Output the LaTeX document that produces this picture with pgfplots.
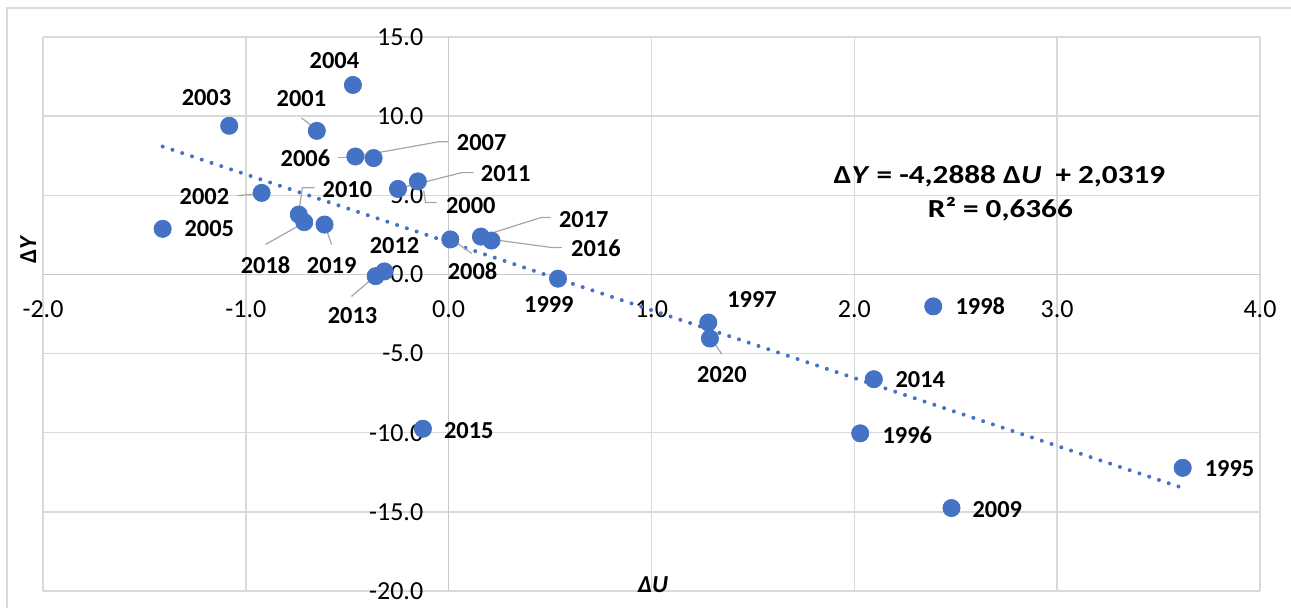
\documentclass[border=0pt]{standalone}
\usepackage{fontspec}
\setmainfont{Carlito}
\usepackage{pgfplots}
\pgfplotsset{compat=1.18}
\definecolor{excelblue}{HTML}{4472C4}
\definecolor{gridgray}{HTML}{D9D9D9}
\definecolor{axisgray}{HTML}{C8C8C8}
\definecolor{leadgray}{HTML}{A6A6A6}
\tikzset{dl/.style={font=\fontsize{12.2}{14}\selectfont\bfseries, text=black},
         eq/.style={font=\fontsize{13}{15}\selectfont\bfseries, text=black}}
\begin{document}
\begin{tikzpicture}
\useasboundingbox (-21.5pt,-8.5pt) rectangle (624pt,295.5pt);
\draw[gridgray, line width=0.7pt] (-18pt,-8.5pt) -- (-18pt,291.5pt) -- (624pt,291.5pt);
\begin{axis}[
  at={(0,0)}, anchor=south west,
  scale only axis, width=608.5pt, height=277pt,
  xmin=-2, xmax=4, ymin=-20, ymax=15,
  xtick={-2,-1,0,1,2,3,4}, ytick={-20,-15,-10,-5,0,5,10,15},
  axis lines=middle,
  axis line style={-, draw=axisgray, line width=0.7pt},
  grid=major, grid style={draw=gridgray, line width=0.7pt},
  major tick length=0pt,
  hide obscured x ticks=false, hide obscured y ticks=false,
  tick label style={font=\fontsize{13}{15}\selectfont, text=black},
  xticklabel style={anchor=north, yshift=-9.7pt},
  yticklabel style={anchor=east, xshift=-9.2pt},
  /pgf/number format/fixed, /pgf/number format/fixed zerofill,
  /pgf/number format/precision=1, /pgf/number format/assume math mode=true,
  clip=false,
]
% trend line (linear fit, plotted over data range)
\addplot[excelblue, line width=2pt, line cap=round, dash pattern=on 0pt off 5.15pt]
  coordinates {(-1.410,8.079) (3.619,-13.489)};
% data
\addplot[only marks, mark=*, mark size=4.3pt, color=excelblue] coordinates {
(-0.472,11.97) (-1.082,9.39) (-0.650,9.07) (-0.460,7.45) (-0.370,7.35)
(-0.250,5.40) (-0.152,5.88) (-0.922,5.15) (-0.739,3.78) (-0.712,3.30)
(-0.612,3.15) (-1.410,2.88) (0.008,2.21) (0.159,2.39) (0.211,2.14)
(-0.317,0.19) (-0.360,-0.11) (0.539,-0.27) (1.280,-3.04) (1.288,-4.05)
(2.389,-2.02) (2.096,-6.62) (-0.127,-9.75) (2.029,-10.04) (3.619,-12.22)
(2.479,-14.76)};
% leader lines
\begin{scope}[leadgray, line width=0.6pt]
\draw (axis cs:-0.726,9.89) -- (axis cs:-0.656,9.20);
\draw (axis cs:-0.548,7.37) -- (axis cs:-0.380,7.37);
\draw (axis cs:0,8.38) -- (axis cs:-0.049,8.38) -- (axis cs:-0.459,7.44);
\draw (axis cs:-0.661,5.48) -- (axis cs:-0.721,5.48) -- (axis cs:-0.740,3.84);
\draw (axis cs:-1.041,4.98) -- (axis cs:-0.928,5.10);
\draw (axis cs:-0.903,1.89) -- (axis cs:-0.711,3.28);
\draw (axis cs:-0.577,1.89) -- (axis cs:-0.612,3.15);
\draw (axis cs:-0.479,-1.39) -- (axis cs:-0.370,-0.19);
\draw (axis cs:0.010,2.27) -- (axis cs:0.114,1.32);
\draw (axis cs:-0.059,4.54) -- (axis cs:-0.114,4.54) -- (axis cs:-0.123,5.29);
\draw (axis cs:0.123,6.43) -- (axis cs:0.064,6.43) -- (axis cs:-0.247,5.42);
\draw (axis cs:0.503,3.59) -- (axis cs:0.454,3.59) -- (axis cs:0.158,2.39);
\draw (axis cs:0.558,1.70) -- (axis cs:0.508,1.70) -- (axis cs:0.212,2.21);
\draw (axis cs:1.293,-4.03) -- (axis cs:1.347,-5.04);
\end{scope}
% data labels
\node[dl] at (axis cs:-0.563,13.48) {2004};
\node[dl] at (axis cs:-1.194,11.15) {2003};
\node[dl] at (axis cs:-0.726,11.09) {2001};
\node[dl] at (axis cs:-0.706,7.31) {2006};
\node[dl] at (axis cs:0.163,8.32) {2007};
\node[dl] at (axis cs:-0.499,5.36) {2010};
\node[dl] at (axis cs:-1.204,4.91) {2002};
\node[dl] at (axis cs:-1.180,2.90) {2005};
\node[dl] at (axis cs:-0.903,0.57) {2018};
\node[dl] at (axis cs:-0.577,0.57) {2019};
\node[dl] at (axis cs:-0.267,1.83) {2012};
\node[dl] at (axis cs:-0.474,-2.58) {2013};
\node[dl] at (axis cs:0.118,0.19) {2008};
\node[dl] at (axis cs:0.109,4.35) {2000};
\node[dl] at (axis cs:0.281,6.36) {2011};
\node[dl] at (axis cs:0.666,3.47) {2017};
\node[dl] at (axis cs:0.726,1.64) {2016};
\node[dl] at (axis cs:0.494,-1.89) {1999};
\node[dl] at (axis cs:1.496,-1.58) {1997};
\node[dl] at (axis cs:1.347,-6.30) {2020};
\node[dl] at (axis cs:2.621,-2.02) {1998};
\node[dl] at (axis cs:2.325,-6.62) {2014};
\node[dl] at (axis cs:0.099,-9.88) {2015};
\node[dl] at (axis cs:2.261,-10.14) {1996};
\node[dl] at (axis cs:3.850,-12.29) {1995};
\node[dl] at (axis cs:2.705,-14.87) {2009};
% equation
\node[eq] at (axis cs:2.715,6.20) {\scalebox{1.2}[1]{Δ\textit{Y} = -4,2888 Δ\textit{U}\ \ + 2,0319}};
\node[eq] at (axis cs:2.720,4.15) {\scalebox{1.2}[1]{R² = 0,6366}};
% axis titles
\node[dl, rotate=90] at (axis cs:-2.073,1.58) {Δ\textit{Y}};
\node[dl] at (axis cs:1.007,-19.6) {\textit{ΔU}};
\end{axis}
\end{tikzpicture}
\end{document}
